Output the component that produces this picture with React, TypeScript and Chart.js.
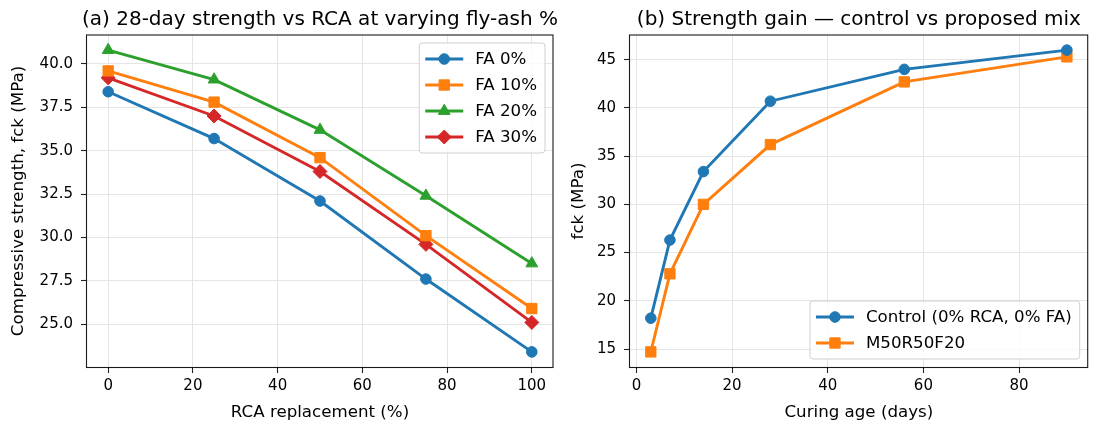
import React, { useEffect, useRef } from "react";
import { Chart, registerables } from "chart.js";

Chart.register(...registerables);

// ---------- Data: panel (a) ----------
const rcaPct = [0, 25, 50, 75, 100];
const fa0 = [38.4, 35.7, 32.1, 27.6, 23.4];
const fa10 = [39.6, 37.8, 34.6, 30.1, 25.9];
const fa20 = [40.8, 39.1, 36.2, 32.4, 28.5];
const fa30 = [39.2, 37.0, 33.8, 29.6, 25.1];
const leftLabels = ["FA 0%", "FA 10%", "FA 20%", "FA 30%"];
const leftXTicks = [0, 20, 40, 60, 80, 100];
const leftYTicks = [25, 27.5, 30, 32.5, 35, 37.5, 40];
const leftTitle = "(a) 28-day strength vs RCA at varying fly-ash %";
const leftXTitle = "RCA replacement (%)";
const leftYTitle = "Compressive strength, fck (MPa)";

// ---------- Data: panel (b) ----------
const ageDays = [3, 7, 14, 28, 56, 90];
const control = [18.2, 26.3, 33.4, 40.7, 44.0, 46.0];
const m50r50f20 = [14.7, 22.8, 30.0, 36.2, 42.7, 45.3];
const rightLabels = ["Control (0% RCA, 0% FA)", "M50R50F20"];
const rightXTicks = [0, 20, 40, 60, 80];
const rightYTicks = [15, 20, 25, 30, 35, 40, 45];
const rightTitle = "(b) Strength gain \u2014 control vs proposed mix";
const rightXTitle = "Curing age (days)";
const rightYTitle = "fck (MPa)";

const COLORS = ["#1f77b4", "#ff7f0e", "#2ca02c", "#d62728"];
const FAMILY = "'DejaVu Sans', 'Noto Sans', sans-serif";
const TEXT = "#000000";

type Marker = "circle" | "rect" | "triangle" | "rectRot";
const MARKER_RADIUS: Record<Marker, number> = { circle: 5.3, rect: 7.3, triangle: 6.8, rectRot: 7 };

function padRange(vals: number[]) {
  const lo = Math.min(...vals);
  const hi = Math.max(...vals);
  const m = (hi - lo) * 0.05;
  return [lo - m, hi + m];
}

function dataset(label: string, xs: number[], ys: number[], color: string, marker: Marker) {
  return {
    label,
    data: xs.map((x, i) => ({ x, y: ys[i] })),
    borderColor: color,
    backgroundColor: color,
    borderWidth: 2.9,
    pointStyle: marker,
    pointRadius: MARKER_RADIUS[marker],
    pointBorderWidth: 1,
    pointBorderColor: color,
    pointBackgroundColor: color,
    tension: 0,
    fill: false,
  };
}

function scaleCfg(
  axis: "x" | "y",
  range: number[],
  ticksArr: number[],
  fmt: (v: number) => string,
  title: string,
  fitSize: number
) {
  return {
    type: "linear",
    min: range[0],
    max: range[1],
    afterBuildTicks: (s: any) => {
      s.ticks = ticksArr.map((v) => ({ value: v }));
    },
    afterFit: (s: any) => {
      if (axis === "x") s.height = fitSize;
      else s.width = fitSize;
    },
    ticks: {
      font: { family: FAMILY, size: 15 },
      color: TEXT,
      padding: axis === "x" ? 4 : 8,
      autoSkip: false,
      maxRotation: 0,
      callback: (v: any) => fmt(Number(v)),
    },
    grid: {
      color: "#e5e5e5",
      lineWidth: 1,
      tickColor: "#222222",
      tickLength: 6,
      tickWidth: 1.1,
      drawTicks: true,
    },
    border: { display: false },
    title: {
      display: true,
      text: title,
      font: { family: FAMILY, size: 16.67 },
      color: TEXT,
      padding: axis === "x" ? { top: 0, bottom: 1 } : { top: 9, bottom: 0 },
    },
  };
}

function drawMarker(ctx: CanvasRenderingContext2D, m: Marker, x: number, y: number, r: number) {
  ctx.beginPath();
  if (m === "circle") {
    ctx.arc(x, y, r, 0, Math.PI * 2);
  } else if (m === "rect") {
    const s = Math.SQRT1_2 * r;
    ctx.rect(x - s, y - s, 2 * s, 2 * s);
  } else if (m === "triangle") {
    let a = 0;
    ctx.moveTo(x + Math.sin(a) * r, y - Math.cos(a) * r);
    a += (2 * Math.PI) / 3;
    ctx.lineTo(x + Math.sin(a) * r, y - Math.cos(a) * r);
    a += (2 * Math.PI) / 3;
    ctx.lineTo(x + Math.sin(a) * r, y - Math.cos(a) * r);
    ctx.closePath();
  } else {
    ctx.moveTo(x - r, y);
    ctx.lineTo(x, y - r);
    ctx.lineTo(x + r, y);
    ctx.lineTo(x, y + r);
    ctx.closePath();
  }
  ctx.fill();
  ctx.stroke();
}

function panelPlugin(title: string, legend: { label: string; color: string; marker: Marker }[], corner: "tr" | "br") {
  return {
    id: "panelDecor",
    afterDatasetsDraw(chart: any) {
      const { ctx, chartArea: a } = chart;
      ctx.save();
      ctx.strokeStyle = "#1a1a1a";
      ctx.lineWidth = 1.1;
      ctx.strokeRect(a.left - 0.5, a.top, a.right - a.left + 0.5, a.bottom - a.top + 0.5);
      ctx.restore();
    },
    afterDraw(chart: any) {
      const { ctx, chartArea: a } = chart;
      ctx.save();
      // title
      ctx.font = `20px ${FAMILY}`;
      ctx.fillStyle = TEXT;
      ctx.textAlign = "center";
      ctx.textBaseline = "alphabetic";
      ctx.fillText(title, (a.left + a.right) / 2, 25);

      // legend
      ctx.font = `16.67px ${FAMILY}`;
      const textW = Math.max(...legend.map((l) => ctx.measureText(l.label).width));
      const boxW = 56 + textW + 8;
      const rowH = 26;
      const boxH = (legend.length - 1) * rowH + 32;
      const pad = 8;
      const x0 = a.right - pad - boxW;
      const y0 = corner === "tr" ? a.top + pad : a.bottom - pad - boxH;
      ctx.beginPath();
      const rr = 3;
      ctx.moveTo(x0 + rr, y0);
      ctx.lineTo(x0 + boxW - rr, y0);
      ctx.quadraticCurveTo(x0 + boxW, y0, x0 + boxW, y0 + rr);
      ctx.lineTo(x0 + boxW, y0 + boxH - rr);
      ctx.quadraticCurveTo(x0 + boxW, y0 + boxH, x0 + boxW - rr, y0 + boxH);
      ctx.lineTo(x0 + rr, y0 + boxH);
      ctx.quadraticCurveTo(x0, y0 + boxH, x0, y0 + boxH - rr);
      ctx.lineTo(x0, y0 + rr);
      ctx.quadraticCurveTo(x0, y0, x0 + rr, y0);
      ctx.closePath();
      ctx.fillStyle = "rgba(255,255,255,0.8)";
      ctx.fill();
      ctx.strokeStyle = "#d0d0d0";
      ctx.lineWidth = 1;
      ctx.stroke();

      legend.forEach((l, i) => {
        const cy = y0 + 16 + i * rowH;
        ctx.strokeStyle = l.color;
        ctx.lineWidth = 2.9;
        ctx.beginPath();
        ctx.moveTo(x0 + 6, cy);
        ctx.lineTo(x0 + 44, cy);
        ctx.stroke();
        ctx.fillStyle = l.color;
        ctx.lineWidth = 1;
        drawMarker(ctx, l.marker, x0 + 25, cy, MARKER_RADIUS[l.marker]);
        ctx.fillStyle = TEXT;
        ctx.textAlign = "left";
        ctx.textBaseline = "middle";
        ctx.fillText(l.label, x0 + 56, cy + 1);
      });
      ctx.restore();
    },
  };
}

function leftConfig(): any {
  const markers: Marker[] = ["circle", "rect", "triangle", "rectRot"];
  const series = [fa0, fa10, fa20, fa30];
  return {
    type: "line",
    data: {
      datasets: series.map((s, i) => dataset(leftLabels[i], rcaPct, s, COLORS[i], markers[i])),
    },
    options: {
      responsive: false,
      animation: false,
      devicePixelRatio: 1,
      events: [],
      layout: { padding: { top: 35, right: 47, left: 0, bottom: 0 } },
      plugins: { legend: { display: false }, title: { display: false }, tooltip: { enabled: false } },
      scales: {
        x: scaleCfg("x", padRange(rcaPct), leftXTicks, (v) => String(v), leftXTitle, 57),
        y: scaleCfg("y", padRange([...fa0, ...fa10, ...fa20, ...fa30]), leftYTicks, (v) => v.toFixed(1), leftYTitle, 87),
      },
    },
    plugins: [
      panelPlugin(
        leftTitle,
        leftLabels.map((label, i) => ({ label, color: COLORS[i], marker: markers[i] })),
        "tr"
      ),
    ],
  };
}

function rightConfig(): any {
  const markers: Marker[] = ["circle", "rect"];
  const series = [control, m50r50f20];
  return {
    type: "line",
    data: {
      datasets: series.map((s, i) => dataset(rightLabels[i], ageDays, s, COLORS[i], markers[i])),
    },
    options: {
      responsive: false,
      animation: false,
      devicePixelRatio: 1,
      events: [],
      layout: { padding: { top: 35, right: 2, left: 0, bottom: 0 } },
      plugins: { legend: { display: false }, title: { display: false }, tooltip: { enabled: false } },
      scales: {
        x: scaleCfg("x", padRange(ageDays), rightXTicks, (v) => String(v), rightXTitle, 57),
        y: scaleCfg("y", padRange([...control, ...m50r50f20]), rightYTicks, (v) => String(v), rightYTitle, 70),
      },
    },
    plugins: [
      panelPlugin(
        rightTitle,
        rightLabels.map((label, i) => ({ label, color: COLORS[i], marker: markers[i] })),
        "br"
      ),
    ],
  };
}

export default function App() {
  const leftRef = useRef<HTMLCanvasElement>(null);
  const rightRef = useRef<HTMLCanvasElement>(null);
  useEffect(() => {
    const a = new Chart(leftRef.current as HTMLCanvasElement, leftConfig());
    const b = new Chart(rightRef.current as HTMLCanvasElement, rightConfig());
    return () => {
      a.destroy();
      b.destroy();
    };
  }, []);
  return (
    <div style={{ position: "fixed", left: 0, top: 0, width: 1096, height: 424, background: "#ffffff" }}>
      <canvas
        ref={leftRef}
        width={600}
        height={424}
        style={{ position: "absolute", left: 0, top: 0, width: 600, height: 424 }}
      />
      <canvas
        ref={rightRef}
        width={536}
        height={424}
        style={{ position: "absolute", left: 560, top: 0, width: 536, height: 424 }}
      />
    </div>
  );
}
